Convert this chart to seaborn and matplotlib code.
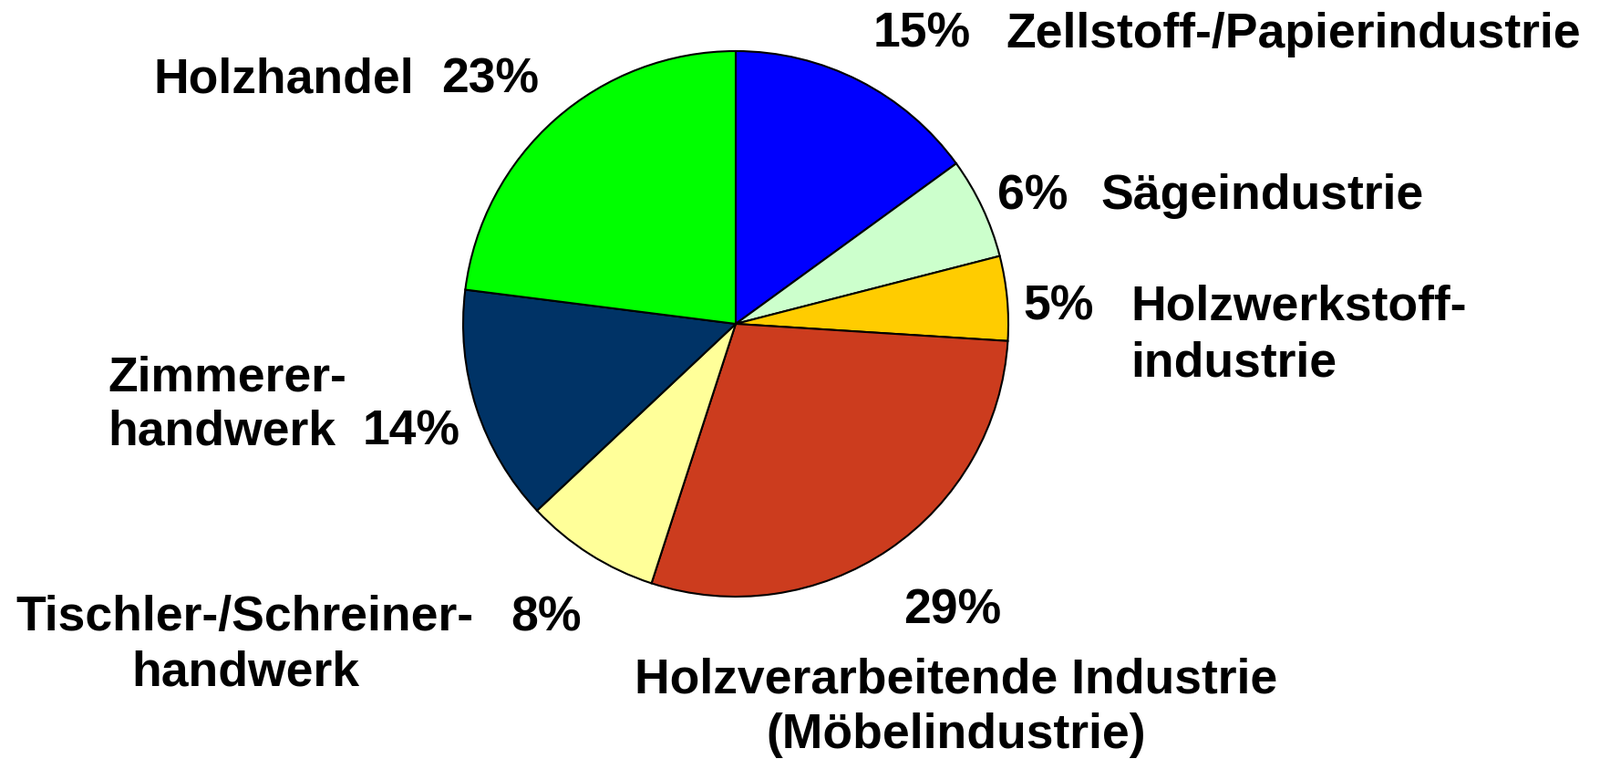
import matplotlib
matplotlib.use("Agg")
import matplotlib.pyplot as plt
import seaborn as sns

# Anteile der Abnehmer (im Uhrzeigersinn ab 12 Uhr)
sectors = ["Zellstoff-/Papierindustrie", "Sägeindustrie", "Holzwerkstoff-industrie",
           "Holzverarbeitende Industrie (Möbelindustrie)", "Tischler-/Schreiner-handwerk",
           "Zimmerer-handwerk", "Holzhandel"]
shares = [15, 6, 5, 29, 8, 14, 23]
colors = ["#0000FF", "#CCFFCC", "#FFCC00", "#CC3C1E", "#FFFF99", "#003366", "#00FF00"]

sns.set_theme(style="white")
plt.rcParams['font.family'] = ['Liberation Sans', 'DejaVu Sans']

W, H = 1756, 832
fig = plt.figure(figsize=(W / 100, H / 100), dpi=100)
ax = fig.add_axes([0, 0, 1, 1])

ax.pie(shares, colors=colors, startangle=90, counterclock=False,
       center=(807, H - 355), radius=299,
       wedgeprops=dict(edgecolor="black", linewidth=1.5))
ax.set_xlim(0, W)
ax.set_ylim(0, H)
ax.set_aspect("equal")
ax.axis("off")

fs = 38.5
kw = dict(fontsize=fs, fontweight="bold", va="center", color="black")


def t(x, y, s, ha="left"):
    # y in Pixeln von oben
    ax.text(x, H - y - 4, s, ha=ha, **kw)


pct = [f"{v}%" for v in shares]

# Beschriftungen
t(958, 34, pct[0])
t(1103, 34, "Zellstoff-/Papierindustrie")
t(1094, 211, pct[1])
t(1207, 211, "Sägeindustrie")
t(1122, 333, pct[2])
t(1240, 333, "Holzwerkstoff-")
t(1240, 395, "industrie")
t(1045, 665, pct[3], ha="center")
t(1049, 741, "Holzverarbeitende Industrie", ha="center")
t(1049, 802, "(Möbelindustrie)", ha="center")
t(17, 673, "Tischler-/Schreiner-")
t(560, 673, pct[4])
t(269, 734, "handwerk", ha="center")
t(118, 411, "Zimmerer-")
t(118, 470, "handwerk")
t(398, 470, pct[5])
t(168, 84, "Holzhandel")
t(484, 84, pct[6])

fig.savefig("out.png", dpi=100, facecolor="white")
